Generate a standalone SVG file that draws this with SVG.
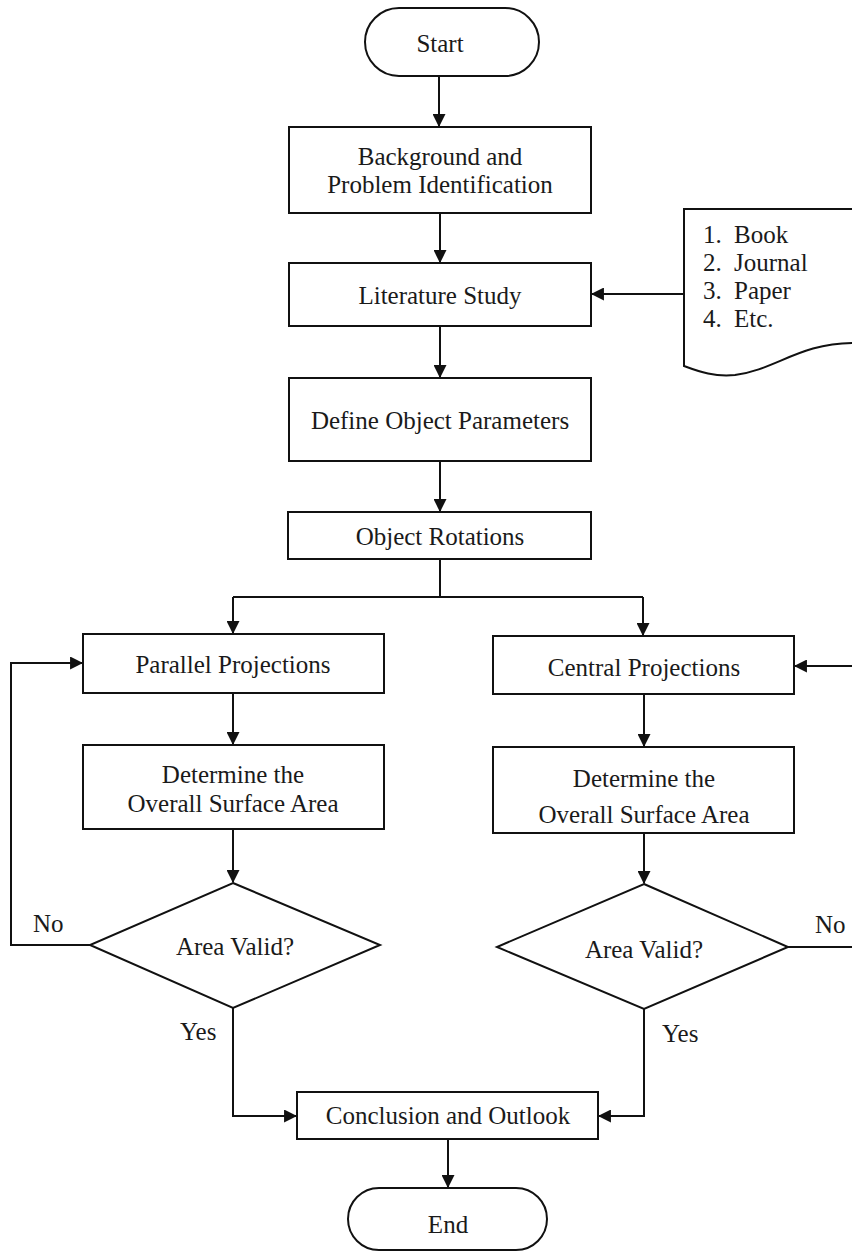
<svg xmlns="http://www.w3.org/2000/svg" width="852" height="1255" viewBox="0 0 852 1255">
<defs>
<marker id="arr" viewBox="0 0 12 12" refX="11" refY="6" markerWidth="13" markerHeight="13" markerUnits="userSpaceOnUse" orient="auto">
<path d="M0,0 L12,6 L0,12 Z" fill="#111"/>
</marker>
</defs>
<style>
.box{fill:#fff;stroke:#111;stroke-width:2}
.t{font-family:"Liberation Serif","Times New Roman",serif;font-size:25px;fill:#1a1a1a;text-anchor:middle}
.l{font-family:"Liberation Serif","Times New Roman",serif;font-size:25px;fill:#1a1a1a}
.c{fill:none;stroke:#111;stroke-width:2}
</style>
<rect width="852" height="1255" fill="#fff"/>
<g id="connectors">
<path class="c" d="M439 76 V126" marker-end="url(#arr)"/>
<path class="c" d="M440 213 V262" marker-end="url(#arr)"/>
<path class="c" d="M440 326 V377" marker-end="url(#arr)"/>
<path class="c" d="M440 461 V511" marker-end="url(#arr)"/>
<path class="c" d="M684 294 H592" marker-end="url(#arr)"/>
<path class="c" d="M440 559 V597"/>
<path class="c" d="M233 597 H643"/>
<path class="c" d="M233 597 V633" marker-end="url(#arr)"/>
<path class="c" d="M643 597 V635" marker-end="url(#arr)"/>
<path class="c" d="M233 693 V744" marker-end="url(#arr)"/>
<path class="c" d="M644 694 V746" marker-end="url(#arr)"/>
<path class="c" d="M233 829 V882" marker-end="url(#arr)"/>
<path class="c" d="M644 833 V883" marker-end="url(#arr)"/>
<path class="c" d="M90 945 H11 V663 H82" marker-end="url(#arr)"/>
<path class="c" d="M788 947 H870 V666 H795" marker-end="url(#arr)"/>
<path class="c" d="M233 1008 V1116 H296" marker-end="url(#arr)"/>
<path class="c" d="M644 1009 V1116 H599" marker-end="url(#arr)"/>
<path class="c" d="M448 1139 V1187" marker-end="url(#arr)"/>
</g>
<g id="start">
<rect class="box" x="365" y="8" width="174" height="68" rx="34"/>
<text class="t" x="440" y="52">Start</text>
</g>
<g id="background">
<rect class="box" x="289" y="127" width="302" height="86"/>
<text class="t" x="440" y="165">Background and</text>
<text class="t" x="440" y="193">Problem Identification</text>
</g>
<g id="literature">
<rect class="box" x="289" y="263" width="302" height="63"/>
<text class="t" x="440" y="304">Literature Study</text>
</g>
<g id="sources">
<path class="box" d="M853 209 H684 V366 C700 372 715 377 735 375 C775 370 800 343 853 343"/>
<text class="l" x="703" y="243">1.</text><text class="l" x="734" y="243">Book</text>
<text class="l" x="703" y="271">2.</text><text class="l" x="734" y="271">Journal</text>
<text class="l" x="703" y="299">3.</text><text class="l" x="734" y="299">Paper</text>
<text class="l" x="703" y="327">4.</text><text class="l" x="734" y="327">Etc.</text>
</g>
<g id="define">
<rect class="box" x="289" y="378" width="302" height="83"/>
<text class="t" x="440" y="429">Define Object Parameters</text>
</g>
<g id="rotations">
<rect class="box" x="288" y="512" width="303" height="47"/>
<text class="t" x="440" y="545">Object Rotations</text>
</g>
<g id="parallel">
<rect class="box" x="83" y="634" width="301" height="59"/>
<text class="t" x="233" y="673">Parallel Projections</text>
</g>
<g id="central">
<rect class="box" x="493" y="636" width="301" height="58"/>
<text class="t" x="644" y="676">Central Projections</text>
</g>
<g id="area-left">
<rect class="box" x="83" y="745" width="301" height="84"/>
<text class="t" x="233" y="783">Determine the</text>
<text class="t" x="233" y="812">Overall Surface Area</text>
</g>
<g id="area-right">
<rect class="box" x="493" y="747" width="301" height="86"/>
<text class="t" x="644" y="787">Determine the</text>
<text class="t" x="644" y="823">Overall Surface Area</text>
</g>
<g id="valid-left">
<polygon class="box" points="233,883 380,945 233,1008 90,945"/>
<text class="t" x="235" y="955">Area Valid?</text>
</g>
<g id="valid-right">
<polygon class="box" points="644,884 788,947 644,1009 497,947"/>
<text class="t" x="644" y="958">Area Valid?</text>
</g>
<g id="labels">
<text class="l" x="33" y="932">No</text>
<text class="l" x="815" y="933">No</text>
<text class="l" x="180" y="1040">Yes</text>
<text class="l" x="662" y="1042">Yes</text>
</g>
<g id="conclusion">
<rect class="box" x="297" y="1092" width="301" height="47"/>
<text class="t" x="448" y="1124">Conclusion and Outlook</text>
</g>
<g id="end">
<rect class="box" x="348" y="1188" width="199" height="62" rx="31"/>
<text class="t" x="448" y="1233">End</text>
</g>
</svg>
